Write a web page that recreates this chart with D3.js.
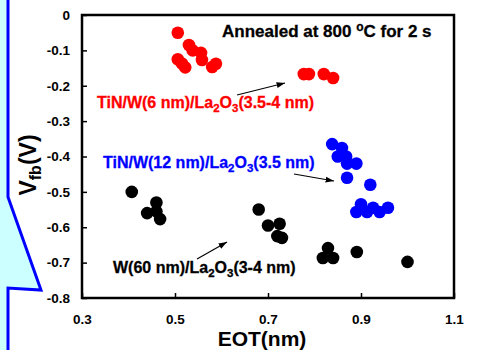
<!DOCTYPE html>
<html>
<head>
<meta charset="utf-8">
<script src="https://cdn.jsdelivr.net/npm/d3@7"></script>
<style>
  body { margin: 0; background: #fff; }
  text { font-family: "Liberation Sans", Arial, sans-serif; font-weight: bold; }
</style>
</head>
<body>
<div id="chart"></div>
<script>
// EOT (nm) vs Vfb (V) for three gate stacks
const redPts = [
  [0.506, -0.05], [0.53, -0.085], [0.538, -0.10], [0.506, -0.125], [0.515, -0.137],
  [0.522, -0.148], [0.556, -0.107], [0.558, -0.127], [0.58, -0.147], [0.588, -0.138],
  [0.777, -0.167], [0.788, -0.167], [0.82, -0.167], [0.84, -0.178]
];
const bluePts = [
  [0.838, -0.365], [0.859, -0.376], [0.85, -0.40], [0.868, -0.40], [0.87, -0.42],
  [0.89, -0.42], [0.87, -0.46], [0.92, -0.48], [0.90, -0.535], [0.89, -0.557],
  [0.913, -0.557], [0.926, -0.545], [0.94, -0.557], [0.958, -0.545]
];
const blackPts = [
  [0.407, -0.50], [0.44, -0.56], [0.46, -0.53], [0.46, -0.555], [0.468, -0.577],
  [0.68, -0.55], [0.70, -0.595], [0.725, -0.59], [0.72, -0.625], [0.73, -0.63],
  [0.829, -0.659], [0.818, -0.687], [0.84, -0.687], [0.891, -0.67], [1.0, -0.698]
];
const xTicks = [0.3, 0.5, 0.7, 0.9, 1.1];
const yTicks = [0, -0.1, -0.2, -0.3, -0.4, -0.5, -0.6, -0.7, -0.8];

const W = 477, H = 350;
const svg = d3.select("#chart").append("svg")
  .attr("width", W).attr("height", H);

// callout shape on the left
svg.append("polygon")
  .attr("points", "0,0 8,0 8,197 41,290 8,288 8,350 0,350")
  .attr("fill", "#ccffff");
svg.append("polyline")
  .attr("points", "8,0 8,197 41,290 8,288 8,352")
  .attr("fill", "none").attr("stroke", "#0000ff").attr("stroke-width", 3);

const x = d3.scaleLinear().domain([0.3, 1.1]).range([82, 454]);
const y = d3.scaleLinear().domain([0, -0.8]).range([15, 298]);

// axes, ticks inward
svg.append("g")
  .attr("transform", "translate(82,0)")
  .call(d3.axisLeft(y).tickValues(yTicks).tickSize(-5).tickPadding(12)
    .tickFormat(d => d === 0 ? "0" : d.toFixed(1)))
  .call(g => g.select(".domain").remove())
  .call(g => g.selectAll("line").attr("stroke-width", 1.5))
  .call(g => g.selectAll("text").attr("font-size", 13.5).attr("font-family", null).attr("fill", "#000"));

svg.append("g")
  .attr("transform", "translate(0,298)")
  .call(d3.axisBottom(x).tickValues(xTicks).tickSize(-5).tickPadding(16)
    .tickFormat(d => d.toFixed(1)))
  .call(g => g.select(".domain").remove())
  .call(g => g.selectAll("line").attr("stroke-width", 1.5))
  .call(g => g.selectAll("text").attr("font-size", 13.5).attr("font-family", null).attr("fill", "#000"));

svg.append("rect")
  .attr("x", x(0.3)).attr("y", y(0))
  .attr("width", x(1.1) - x(0.3)).attr("height", y(-0.8) - y(0))
  .attr("fill", "none").attr("stroke", "#000").attr("stroke-width", 2.5);

// points
const series = [[blackPts, "#000"], [bluePts, "#0000ff"], [redPts, "#ff0000"]];
series.forEach(([pts, col]) => {
  svg.append("g").selectAll("circle")
    .data(pts)
    .join("circle")
    .attr("cx", d => x(d[0]))
    .attr("cy", d => y(d[1]))
    .attr("r", 6.3)
    .attr("fill", col);
});

// arrow head
svg.append("defs").append("marker")
  .attr("id", "ah").attr("viewBox", "0 0 10 10")
  .attr("refX", 10).attr("refY", 5)
  .attr("markerWidth", 7).attr("markerHeight", 7)
  .attr("orient", "auto")
  .append("path").attr("d", "M0,1.5L10,5L0,8.5Z").attr("fill", "#000");

function arrow(x1, y1, x2, y2) {
  svg.append("line")
    .attr("x1", x1).attr("y1", y1).attr("x2", x2).attr("y2", y2)
    .attr("stroke", "#000").attr("stroke-width", 1.2)
    .attr("marker-end", "url(#ah)");
}
arrow(237, 95, 285, 83);
arrow(294, 174, 334, 181);
arrow(197, 259, 227, 242);

// label with La2O3 subscripts
function label(px, py, pre, post, col, fs) {
  const t = svg.append("text").attr("x", px).attr("y", py)
    .attr("font-size", fs).attr("fill", col)
    .attr("stroke", col).attr("stroke-width", 0.3);
  t.append("tspan").text(pre + "La");
  t.append("tspan").attr("dy", 4).attr("font-size", fs * 0.72).text("2");
  t.append("tspan").attr("dy", -4).text("O");
  t.append("tspan").attr("dy", 4).attr("font-size", fs * 0.72).text("3");
  t.append("tspan").attr("dy", -4).text(post);
}
label(97, 108, "TiN/W(6 nm)/", "(3.5-4 nm)", "#ff0000", 16);
label(103, 168, "TiN/W(12 nm)/", "(3.5 nm)", "#0000ff", 16);
label(113, 273, "W(60 nm)/", "(3-4 nm)", "#000", 16);

const ann = svg.append("text").attr("x", 222).attr("y", 37)
  .attr("font-size", 17).attr("fill", "#000")
  .attr("stroke", "#000").attr("stroke-width", 0.3);
ann.append("tspan").text("Annealed at 800 ");
ann.append("tspan").attr("dy", -6).attr("font-size", 12).text("o");
ann.append("tspan").attr("dy", 6).text("C for 2 s");

// axis titles
svg.append("text")
  .attr("x", 262).attr("y", 346)
  .attr("text-anchor", "middle")
  .attr("font-size", 21)
  .text("EOT(nm)");

const yt = svg.append("text")
  .attr("transform", "translate(36,165) rotate(-90)")
  .attr("text-anchor", "middle")
  .attr("font-size", 23);
yt.append("tspan").text("V");
yt.append("tspan").attr("dy", 5).attr("font-size", 16).text("fb");
yt.append("tspan").attr("dy", -5).text("(V)");
</script>
</body>
</html>
